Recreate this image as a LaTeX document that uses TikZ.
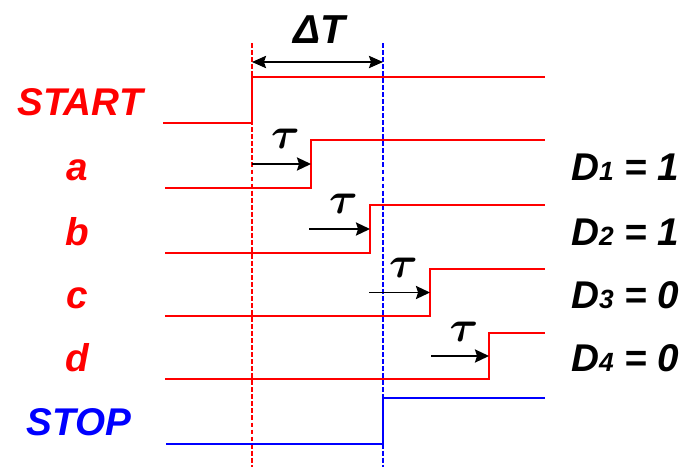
\documentclass[tikz,border=0pt]{standalone}
\usepackage{amsmath}
\usepackage{fontspec}
\setmainfont{Liberation Sans}
\usetikzlibrary{arrows.meta}

\begin{document}
\begin{tikzpicture}[x=0.02cm, y=-0.02cm]
	\tikzset{sig/.style={red, line width=1.1pt},
		marker/.style={line width=0.8pt, dash pattern=on 2.8pt off 1.2pt},
		lbl/.style={font=\fontsize{22}{26}\selectfont\bfseries\itshape, anchor=base},
		delay/.style={-{Stealth[length=8pt, width=7.5pt, inset=1.2pt]}, line width=1pt}}
	\useasboundingbox (0,0) rectangle (684,467);
	% start and stop markers
	\coordinate (m0top) at (252,43);
	\coordinate (m0bot) at (252,467);
	\coordinate (m1top) at (383,43);
	\coordinate (m1bot) at (383,467);
	\draw[marker, red] (m0top) -- (m0bot);
	\draw[marker, blue] (m1top) -- (m1bot);
	\coordinate (dl) at (252,62);
	\coordinate (dr) at (383,62);
	\draw[{Stealth[length=8pt, width=7pt, inset=1.2pt]}-{Stealth[length=8pt, width=7pt, inset=1.2pt]}, line width=1pt] (dl) -- (dr);
	\node[lbl, anchor=center, font=\fontsize{23}{26}\selectfont\bfseries\itshape] (dT) at (319,30) {ΔT};
	
	% START and STOP
	\draw[sig] (163,123) -- (252,123) -- (252,77) -- (545,77);
	\node[lbl, red] (start) at (80,115) {START};
	\draw[sig, blue] (166,444) -- (383,444) -- (383,398) -- (545,398);
	\node[lbl, blue] (stop) at (79,435) {STOP};
	
	% delayed signals
	\foreach \s/\lo/\hi/\e/\f/\v [count=\i] in {a/188/140/311/252/1, b/253/205/370/309/1, c/316/269/430/369/0, d/379/333/489/431/0}{
		\draw[sig] (165,\lo) -- (\e,\lo) -- (\e,\hi) -- (545,\hi);
		\node[lbl, red] (lab\s) at (77,{\lo-8}) {\s};
		\node[lbl, anchor=base west] (D\i) at (565,{\lo-8}) {D{\fontsize{15}{15}\selectfont\i} = \v};
		\coordinate (s\s) at (\f,{(\lo+\hi)/2});
		\coordinate (e\s) at (\e,{(\lo+\hi)/2});
		\draw[delay] (s\s) -- (e\s);
		\node[font=\fontsize{28}{28}\selectfont] (tau\s) at ({(\f+\e)/2+4},{\hi-1}) {$\boldsymbol{\tau}$};
	}
\end{tikzpicture}
\end{document}
